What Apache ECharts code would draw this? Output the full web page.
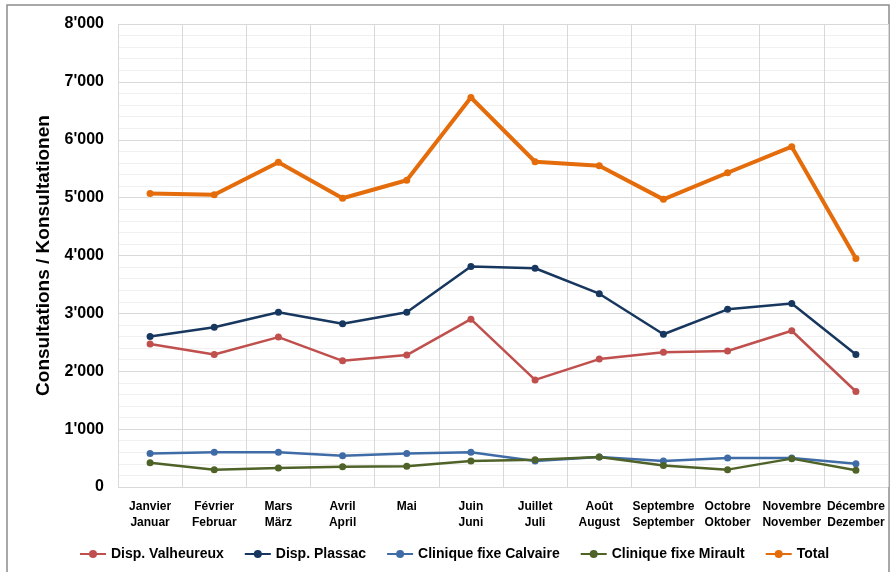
<!DOCTYPE html>
<html>
<head>
<meta charset="utf-8">
<script src="https://cdn.jsdelivr.net/npm/echarts@6/dist/echarts.min.js"></script>
<style>
  html, body { margin: 0; padding: 0; background: #fff; }
  #chart { width: 893px; height: 572px; }
</style>
</head>
<body>
<div id="chart"></div>
<script>
const months = ['Janvier\nJanuar', 'Février\nFebruar', 'Mars\nMärz', 'Avril\nApril', 'Mai', 'Juin\nJuni',
  'Juillet\nJuli', 'Août\nAugust', 'Septembre\nSeptember', 'Octobre\nOktober', 'Novembre\nNovember', 'Décembre\nDezember'];
const valheureux = [2470, 2290, 2590, 2180, 2280, 2900, 1850, 2210, 2330, 2350, 2700, 1650];
const plassac = [2600, 2760, 3020, 2820, 3020, 3810, 3780, 3340, 2640, 3070, 3170, 2290];
const calvaire = [580, 600, 600, 540, 580, 600, 450, 520, 450, 500, 500, 400];
const mirault = [420, 300, 330, 350, 360, 450, 470, 520, 370, 300, 490, 290];
const total = [5070, 5050, 5610, 4990, 5300, 6730, 5620, 5550, 4970, 5430, 5880, 3950];

const font = '"Liberation Sans", Arial, sans-serif';

function line(name, data, color, width, size) {
  return {
    name: name, type: 'line', data: data,
    symbol: 'circle', symbolSize: size,
    itemStyle: { color: color },
    lineStyle: { color: color, width: width },
    z: name === 'Total' ? 5 : 3
  };
}

const chart = echarts.init(document.getElementById('chart'));
chart.setOption({
  animation: false,
  grid: { left: 118, right: 5, top: 24, bottom: 85 },
  graphic: [{
    type: 'rect', shape: { x: 7, y: 5, width: 882, height: 570 },
    style: { fill: 'none', stroke: '#8c8c8c', lineWidth: 1.5 }, silent: true
  }],
  legend: {
    left: 74, top: 542, itemGap: 20, itemWidth: 26, itemHeight: 10,
    textStyle: { fontFamily: font, fontSize: 14, fontWeight: 'bold', color: '#000' },
    data: ['Disp. Valheureux', 'Disp. Plassac', 'Clinique fixe Calvaire', 'Clinique fixe Mirault', 'Total']
  },
  xAxis: {
    type: 'category', data: months, boundaryGap: true,
    axisLine: { show: false }, axisTick: { show: false },
    axisLabel: { interval: 0, margin: 12, fontFamily: font, fontSize: 12, fontWeight: 'bold', color: '#000', lineHeight: 16 },
    splitLine: { show: true, lineStyle: { color: '#d9d9d9', width: 1 } }
  },
  yAxis: {
    type: 'value', min: 0, max: 8000, interval: 1000,
    name: 'Consultations / Konsultationen', nameLocation: 'middle', nameGap: 62,
    nameTextStyle: { fontFamily: font, fontSize: 19, fontWeight: 'bold', color: '#000' },
    axisLine: { show: false }, axisTick: { show: false },
    axisLabel: {
      margin: 14, fontFamily: font, fontSize: 16, fontWeight: 'bold', color: '#000',
      formatter: v => v === 0 ? '0' : Math.floor(v / 1000) + "'" + String(v % 1000).padStart(3, '0')
    },
    splitLine: { lineStyle: { color: '#d9d9d9', width: 1 } },
    minorTick: { show: false, splitNumber: 5 },
    minorSplitLine: { show: true, lineStyle: { color: '#f0f0f0', width: 1 } }
  },
  series: [
    line('Disp. Valheureux', valheureux, '#C0504D', 2.5, 7),
    line('Disp. Plassac', plassac, '#17375E', 2.5, 7),
    line('Clinique fixe Calvaire', calvaire, '#3F6CA6', 2.5, 7),
    line('Clinique fixe Mirault', mirault, '#4F6228', 2.5, 7),
    line('Total', total, '#E46C0A', 4, 7)
  ]
});
</script>
</body>
</html>
